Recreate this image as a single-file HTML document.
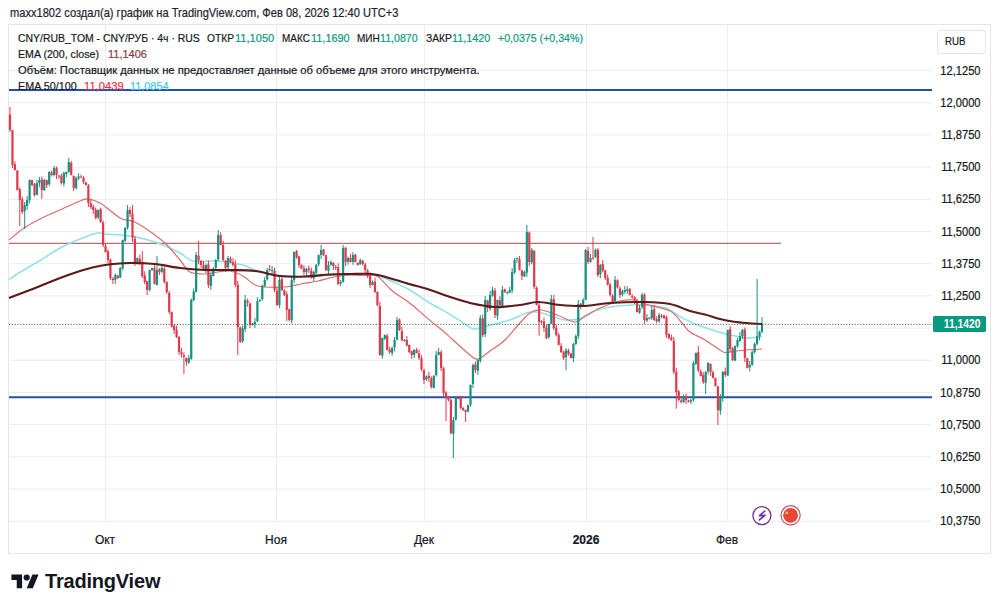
<!DOCTYPE html>
<html><head><meta charset="utf-8"><style>
html,body{margin:0;padding:0;background:#fff;width:1000px;height:610px;overflow:hidden;}
body{position:relative;font-family:"Liberation Sans",sans-serif;color:#131722;}
.tp{position:absolute;white-space:pre;transform-origin:0 0;-webkit-text-stroke:0.2px currentColor;}
.t{position:absolute;white-space:nowrap;font-size:12px;line-height:14px;color:#131722;}
.pl{position:absolute;left:920px;width:60.5px;text-align:right;font-size:12px;line-height:16px;color:#131722;transform:scaleX(0.925);transform-origin:100% 50%;-webkit-text-stroke:0.2px currentColor;}
.ml{position:absolute;top:533px;width:60px;text-align:center;font-size:12px;line-height:14px;color:#131722;-webkit-text-stroke:0.2px currentColor;}
.g{color:#089981} .r2{color:#880e4f} .r1{color:#f23645} .c1{color:#00bcd4}
</style></head><body>
<div class="tp" style="left:10.0px;top:7.1px;font-size:12.4px;line-height:12.4px;color:#1e222d;font-weight:normal;transform:scaleX(0.8956);">maxx1802 создал(а) график на TradingView.com, Фев 08, 2026 12:40 UTC+3</div>
<div style="position:absolute;left:8px;top:24px;width:983px;height:530px;border:1px solid #e6e6e6;box-sizing:border-box;"></div>
<svg style="position:absolute;left:0;top:0" width="1000" height="610" viewBox="0 0 1000 610">
<line x1="9" y1="70.5" x2="931" y2="70.5" stroke="#ececec" stroke-width="1"/><line x1="9" y1="102.7" x2="931" y2="102.7" stroke="#ececec" stroke-width="1"/><line x1="9" y1="134.9" x2="931" y2="134.9" stroke="#ececec" stroke-width="1"/><line x1="9" y1="167.1" x2="931" y2="167.1" stroke="#ececec" stroke-width="1"/><line x1="9" y1="199.3" x2="931" y2="199.3" stroke="#ececec" stroke-width="1"/><line x1="9" y1="231.5" x2="931" y2="231.5" stroke="#ececec" stroke-width="1"/><line x1="9" y1="263.7" x2="931" y2="263.7" stroke="#ececec" stroke-width="1"/><line x1="9" y1="295.9" x2="931" y2="295.9" stroke="#ececec" stroke-width="1"/><line x1="9" y1="328.1" x2="931" y2="328.1" stroke="#ececec" stroke-width="1"/><line x1="9" y1="360.3" x2="931" y2="360.3" stroke="#ececec" stroke-width="1"/><line x1="9" y1="392.5" x2="931" y2="392.5" stroke="#ececec" stroke-width="1"/><line x1="9" y1="424.7" x2="931" y2="424.7" stroke="#ececec" stroke-width="1"/><line x1="9" y1="456.9" x2="931" y2="456.9" stroke="#ececec" stroke-width="1"/><line x1="9" y1="489.1" x2="931" y2="489.1" stroke="#ececec" stroke-width="1"/><line x1="9" y1="521.3" x2="931" y2="521.3" stroke="#ececec" stroke-width="1"/><line x1="105.5" y1="25" x2="105.5" y2="521" stroke="#ececec" stroke-width="1"/><line x1="276.5" y1="25" x2="276.5" y2="521" stroke="#ececec" stroke-width="1"/><line x1="424.5" y1="25" x2="424.5" y2="521" stroke="#ececec" stroke-width="1"/><line x1="586.5" y1="25" x2="586.5" y2="521" stroke="#ececec" stroke-width="1"/><line x1="727.5" y1="25" x2="727.5" y2="521" stroke="#ececec" stroke-width="1"/>
<line x1="9" y1="243.3" x2="781" y2="243.3" stroke="#a04a4a" stroke-width="1"/>
<line x1="9" y1="90" x2="932" y2="90" stroke="#2a4fa0" stroke-width="2"/>
<line x1="9" y1="397.2" x2="932" y2="397.2" stroke="#2a4fa0" stroke-width="2"/>
<path d="M9.0,279.5 C11.3,278.0 17.8,273.7 23.0,270.5 C28.2,267.3 33.8,264.2 40.0,260.5 C46.2,256.8 53.3,251.6 60.0,248.0 C66.7,244.4 73.8,241.5 80.0,239.0 C86.2,236.5 92.8,233.8 97.0,233.0 C101.2,232.2 99.5,233.5 105.0,234.0 C110.5,234.5 121.7,234.7 130.0,236.0 C138.3,237.3 146.7,239.2 155.0,242.0 C163.3,244.8 173.7,249.8 180.0,253.0 C186.3,256.2 186.7,259.7 193.0,261.0 C199.3,262.3 209.7,260.3 218.0,261.0 C226.3,261.7 236.8,263.5 243.0,265.0 C249.2,266.5 248.8,268.2 255.0,270.0 C261.2,271.8 270.8,274.4 280.0,275.5 C289.2,276.6 300.0,276.6 310.0,276.5 C320.0,276.4 329.7,275.2 340.0,275.0 C350.3,274.8 363.8,274.2 372.0,275.0 C380.2,275.8 382.8,277.6 389.0,280.0 C395.2,282.4 402.3,285.8 409.0,289.5 C415.7,293.2 422.2,298.4 429.0,302.5 C435.8,306.6 444.0,310.7 450.0,314.3 C456.0,317.9 460.8,321.6 465.0,324.0 C469.2,326.4 470.0,329.0 475.0,329.0 C480.0,329.0 489.2,325.5 495.0,324.0 C500.8,322.5 504.2,322.0 510.0,320.0 C515.8,318.0 524.2,313.0 530.0,312.0 C535.8,311.0 539.2,312.7 545.0,314.0 C550.8,315.3 558.8,319.3 565.0,320.0 C571.2,320.7 577.0,319.5 582.0,318.0 C587.0,316.5 590.3,312.8 595.0,311.0 C599.7,309.2 603.8,308.0 610.0,307.0 C616.2,306.0 626.2,305.3 632.0,305.0 C637.8,304.7 639.3,304.5 645.0,305.0 C650.7,305.5 660.3,306.2 666.0,308.0 C671.7,309.8 674.2,313.3 679.0,316.0 C683.8,318.7 688.3,321.3 695.0,324.0 C701.7,326.7 712.3,330.0 719.0,332.0 C725.7,334.0 729.8,335.0 735.0,336.0 C740.2,337.0 745.5,338.0 750.0,338.0 C754.5,338.0 760.0,336.3 762.0,336.0" fill="none" stroke="#8ee3ea" stroke-width="1.5"/>
<path d="M9.0,240.0 C11.5,238.0 18.5,231.7 24.0,228.0 C29.5,224.3 35.7,221.2 42.0,218.0 C48.3,214.8 55.7,211.8 62.0,209.0 C68.3,206.2 75.7,202.7 80.0,201.0 C84.3,199.3 84.7,198.7 88.0,199.0 C91.3,199.3 96.0,200.8 100.0,203.0 C104.0,205.2 108.3,209.3 112.0,212.0 C115.7,214.7 118.2,217.3 122.0,219.0 C125.8,220.7 129.5,219.3 135.0,222.0 C140.5,224.7 149.7,231.2 155.0,235.0 C160.3,238.8 162.8,240.8 167.0,245.0 C171.2,249.2 176.2,255.5 180.0,260.0 C183.8,264.5 185.8,269.7 190.0,272.0 C194.2,274.3 200.3,274.0 205.0,274.0 C209.7,274.0 213.8,272.5 218.0,272.0 C222.2,271.5 225.8,270.3 230.0,271.0 C234.2,271.7 238.8,273.7 243.0,276.0 C247.2,278.3 251.3,283.2 255.0,285.0 C258.7,286.8 260.0,286.7 265.0,287.0 C270.0,287.3 279.0,287.5 285.0,287.0 C291.0,286.5 295.5,285.0 301.0,284.0 C306.5,283.0 312.5,282.2 318.0,281.0 C323.5,279.8 328.7,278.0 334.0,277.0 C339.3,276.0 344.8,275.2 350.0,275.0 C355.2,274.8 360.5,275.3 365.0,275.5 C369.5,275.7 372.5,273.5 377.0,276.0 C381.5,278.5 386.7,286.3 392.0,290.7 C397.3,295.1 402.8,297.7 409.0,302.5 C415.2,307.3 423.5,315.0 429.0,319.6 C434.5,324.2 438.2,326.8 442.0,330.0 C445.8,333.2 447.3,334.8 452.0,339.0 C456.7,343.2 465.7,351.7 470.0,355.0 C474.3,358.3 474.7,359.7 478.0,359.0 C481.3,358.3 485.5,354.2 490.0,351.0 C494.5,347.8 500.0,344.7 505.0,340.0 C510.0,335.3 515.8,327.5 520.0,323.0 C524.2,318.5 526.5,315.2 530.0,313.0 C533.5,310.8 536.5,309.7 541.0,310.0 C545.5,310.3 551.3,313.0 557.0,315.0 C562.7,317.0 570.3,321.8 575.0,322.0 C579.7,322.2 580.8,318.3 585.0,316.0 C589.2,313.7 594.2,310.5 600.0,308.0 C605.8,305.5 614.5,302.3 620.0,301.0 C625.5,299.7 628.8,299.5 633.0,300.0 C637.2,300.5 638.8,302.2 645.0,304.0 C651.2,305.8 663.8,307.8 670.0,311.0 C676.2,314.2 678.7,319.5 682.0,323.0 C685.3,326.5 686.2,329.2 690.0,332.0 C693.8,334.8 700.0,337.0 705.0,340.0 C710.0,343.0 716.5,347.9 720.0,350.0 C723.5,352.1 722.7,352.4 726.0,352.5 C729.3,352.6 734.0,351.1 740.0,350.5 C746.0,349.9 758.3,349.2 762.0,349.0" fill="none" stroke="#e06a6a" stroke-width="1.2"/>
<line x1="10.00" y1="107.0" x2="10.00" y2="132.0" stroke="#e0394c" stroke-width="1"/><rect x="8.90" y="114.6" width="2.2" height="15.4" fill="#e0394c"/><line x1="12.45" y1="129.8" x2="12.45" y2="168.0" stroke="#e0394c" stroke-width="1"/><rect x="11.35" y="130.3" width="2.2" height="34.7" fill="#e0394c"/><line x1="14.90" y1="161.2" x2="14.90" y2="170.5" stroke="#e0394c" stroke-width="1"/><rect x="13.80" y="164.2" width="2.2" height="5.8" fill="#e0394c"/><line x1="17.35" y1="169.8" x2="17.35" y2="190.5" stroke="#e0394c" stroke-width="1"/><rect x="16.25" y="170.8" width="2.2" height="19.2" fill="#e0394c"/><line x1="19.80" y1="187.2" x2="19.80" y2="226.0" stroke="#e0394c" stroke-width="1"/><rect x="18.70" y="189.2" width="2.2" height="10.8" fill="#e0394c"/><line x1="22.25" y1="196.5" x2="22.25" y2="214.0" stroke="#e0394c" stroke-width="1"/><rect x="21.15" y="199.5" width="2.2" height="12.5" fill="#e0394c"/><line x1="24.70" y1="202.0" x2="24.70" y2="229.0" stroke="#16917f" stroke-width="1"/><rect x="23.60" y="205.0" width="2.2" height="6.1" fill="#16917f"/><line x1="27.15" y1="196.0" x2="27.15" y2="209.9" stroke="#16917f" stroke-width="1"/><rect x="26.05" y="200.0" width="2.2" height="5.9" fill="#16917f"/><line x1="29.60" y1="179.5" x2="29.60" y2="203.2" stroke="#16917f" stroke-width="1"/><rect x="28.50" y="180.0" width="2.2" height="20.2" fill="#16917f"/><line x1="32.05" y1="179.7" x2="32.05" y2="186.0" stroke="#e0394c" stroke-width="1"/><rect x="30.95" y="180.2" width="2.2" height="4.8" fill="#e0394c"/><line x1="34.50" y1="183.1" x2="34.50" y2="196.5" stroke="#e0394c" stroke-width="1"/><rect x="33.40" y="184.1" width="2.2" height="10.9" fill="#e0394c"/><line x1="36.94" y1="180.0" x2="36.94" y2="195.3" stroke="#16917f" stroke-width="1"/><rect x="35.84" y="183.0" width="2.2" height="11.8" fill="#16917f"/><line x1="39.39" y1="177.0" x2="39.39" y2="187.1" stroke="#16917f" stroke-width="1"/><rect x="38.29" y="180.0" width="2.2" height="3.1" fill="#16917f"/><line x1="41.84" y1="176.4" x2="41.84" y2="199.0" stroke="#e0394c" stroke-width="1"/><rect x="40.74" y="179.4" width="2.2" height="10.6" fill="#e0394c"/><line x1="44.29" y1="178.5" x2="44.29" y2="190.8" stroke="#16917f" stroke-width="1"/><rect x="43.19" y="180.0" width="2.2" height="10.3" fill="#16917f"/><line x1="46.74" y1="179.6" x2="46.74" y2="188.0" stroke="#e0394c" stroke-width="1"/><rect x="45.64" y="180.1" width="2.2" height="4.9" fill="#e0394c"/><line x1="49.19" y1="171.0" x2="49.19" y2="186.1" stroke="#16917f" stroke-width="1"/><rect x="48.09" y="172.0" width="2.2" height="12.1" fill="#16917f"/><line x1="51.64" y1="170.4" x2="51.64" y2="176.5" stroke="#e0394c" stroke-width="1"/><rect x="50.54" y="172.4" width="2.2" height="2.6" fill="#e0394c"/><line x1="54.09" y1="166.0" x2="54.09" y2="176.4" stroke="#16917f" stroke-width="1"/><rect x="52.99" y="168.0" width="2.2" height="6.9" fill="#16917f"/><line x1="56.54" y1="166.6" x2="56.54" y2="179.0" stroke="#e0394c" stroke-width="1"/><rect x="55.44" y="167.6" width="2.2" height="7.4" fill="#e0394c"/><line x1="58.99" y1="175.1" x2="58.99" y2="179.0" stroke="#e0394c" stroke-width="1"/><rect x="57.89" y="175.6" width="2.2" height="1.0" fill="#e0394c"/><line x1="61.44" y1="173.6" x2="61.44" y2="184.5" stroke="#e0394c" stroke-width="1"/><rect x="60.34" y="175.6" width="2.2" height="7.4" fill="#e0394c"/><line x1="63.89" y1="171.5" x2="63.89" y2="186.5" stroke="#16917f" stroke-width="1"/><rect x="62.79" y="173.0" width="2.2" height="10.5" fill="#16917f"/><line x1="66.34" y1="171.5" x2="66.34" y2="177.0" stroke="#16917f" stroke-width="1"/><rect x="65.24" y="172.0" width="2.2" height="2.0" fill="#16917f"/><line x1="68.79" y1="158.0" x2="68.79" y2="172.8" stroke="#16917f" stroke-width="1"/><rect x="67.69" y="162.0" width="2.2" height="9.8" fill="#16917f"/><line x1="71.24" y1="160.9" x2="71.24" y2="175.5" stroke="#e0394c" stroke-width="1"/><rect x="70.14" y="162.9" width="2.2" height="12.1" fill="#e0394c"/><line x1="73.69" y1="175.4" x2="73.69" y2="191.0" stroke="#e0394c" stroke-width="1"/><rect x="72.59" y="175.9" width="2.2" height="12.1" fill="#e0394c"/><line x1="76.14" y1="176.5" x2="76.14" y2="189.6" stroke="#16917f" stroke-width="1"/><rect x="75.04" y="178.0" width="2.2" height="10.1" fill="#16917f"/><line x1="78.59" y1="173.4" x2="78.59" y2="180.4" stroke="#16917f" stroke-width="1"/><rect x="77.49" y="176.4" width="2.2" height="2.0" fill="#16917f"/><line x1="81.04" y1="174.6" x2="81.04" y2="177.5" stroke="#e0394c" stroke-width="1"/><rect x="79.94" y="176.6" width="2.2" height="1.0" fill="#e0394c"/><line x1="83.49" y1="176.2" x2="83.49" y2="184.0" stroke="#e0394c" stroke-width="1"/><rect x="82.39" y="177.7" width="2.2" height="4.3" fill="#e0394c"/><line x1="85.93" y1="181.9" x2="85.93" y2="185.5" stroke="#e0394c" stroke-width="1"/><rect x="84.83" y="182.4" width="2.2" height="2.6" fill="#e0394c"/><line x1="88.38" y1="184.0" x2="88.38" y2="207.0" stroke="#e0394c" stroke-width="1"/><rect x="87.28" y="185.5" width="2.2" height="17.5" fill="#e0394c"/><line x1="90.83" y1="199.2" x2="90.83" y2="209.0" stroke="#e0394c" stroke-width="1"/><rect x="89.73" y="203.2" width="2.2" height="3.8" fill="#e0394c"/><line x1="93.28" y1="204.6" x2="93.28" y2="214.0" stroke="#e0394c" stroke-width="1"/><rect x="92.18" y="206.6" width="2.2" height="3.4" fill="#e0394c"/><line x1="95.73" y1="207.7" x2="95.73" y2="219.5" stroke="#e0394c" stroke-width="1"/><rect x="94.63" y="209.7" width="2.2" height="8.3" fill="#e0394c"/><line x1="98.18" y1="209.5" x2="98.18" y2="219.3" stroke="#16917f" stroke-width="1"/><rect x="97.08" y="210.0" width="2.2" height="7.3" fill="#16917f"/><line x1="100.63" y1="207.6" x2="100.63" y2="223.0" stroke="#e0394c" stroke-width="1"/><rect x="99.53" y="209.1" width="2.2" height="12.9" fill="#e0394c"/><line x1="103.08" y1="220.5" x2="103.08" y2="247.0" stroke="#e0394c" stroke-width="1"/><rect x="101.98" y="222.5" width="2.2" height="22.5" fill="#e0394c"/><line x1="105.53" y1="243.8" x2="105.53" y2="252.5" stroke="#e0394c" stroke-width="1"/><rect x="104.43" y="245.8" width="2.2" height="6.2" fill="#e0394c"/><line x1="107.98" y1="249.3" x2="107.98" y2="263.0" stroke="#e0394c" stroke-width="1"/><rect x="106.88" y="251.3" width="2.2" height="8.7" fill="#e0394c"/><line x1="110.43" y1="258.6" x2="110.43" y2="280.0" stroke="#e0394c" stroke-width="1"/><rect x="109.33" y="259.6" width="2.2" height="18.4" fill="#e0394c"/><line x1="112.88" y1="277.2" x2="112.88" y2="284.0" stroke="#e0394c" stroke-width="1"/><rect x="111.78" y="278.7" width="2.2" height="1.3" fill="#e0394c"/><line x1="115.33" y1="273.5" x2="115.33" y2="283.8" stroke="#16917f" stroke-width="1"/><rect x="114.23" y="275.0" width="2.2" height="4.8" fill="#16917f"/><line x1="117.78" y1="274.8" x2="117.78" y2="279.0" stroke="#e0394c" stroke-width="1"/><rect x="116.68" y="275.8" width="2.2" height="2.2" fill="#e0394c"/><line x1="120.23" y1="267.0" x2="120.23" y2="278.2" stroke="#16917f" stroke-width="1"/><rect x="119.13" y="268.0" width="2.2" height="9.2" fill="#16917f"/><line x1="122.68" y1="239.5" x2="122.68" y2="270.3" stroke="#16917f" stroke-width="1"/><rect x="121.58" y="240.0" width="2.2" height="28.3" fill="#16917f"/><line x1="125.13" y1="227.0" x2="125.13" y2="242.2" stroke="#16917f" stroke-width="1"/><rect x="124.03" y="228.0" width="2.2" height="12.7" fill="#16917f"/><line x1="127.58" y1="205.0" x2="127.58" y2="229.6" stroke="#16917f" stroke-width="1"/><rect x="126.48" y="210.0" width="2.2" height="17.6" fill="#16917f"/><line x1="130.03" y1="207.1" x2="130.03" y2="217.0" stroke="#e0394c" stroke-width="1"/><rect x="128.93" y="210.1" width="2.2" height="3.9" fill="#e0394c"/><line x1="132.48" y1="205.0" x2="132.48" y2="242.0" stroke="#e0394c" stroke-width="1"/><rect x="131.38" y="213.6" width="2.2" height="24.4" fill="#e0394c"/><line x1="134.93" y1="235.7" x2="134.93" y2="266.0" stroke="#e0394c" stroke-width="1"/><rect x="133.83" y="238.7" width="2.2" height="23.3" fill="#e0394c"/><line x1="137.37" y1="257.5" x2="137.37" y2="264.4" stroke="#16917f" stroke-width="1"/><rect x="136.27" y="258.0" width="2.2" height="4.4" fill="#16917f"/><line x1="139.82" y1="254.8" x2="139.82" y2="265.0" stroke="#e0394c" stroke-width="1"/><rect x="138.72" y="258.8" width="2.2" height="3.2" fill="#e0394c"/><line x1="142.27" y1="251.0" x2="142.27" y2="278.0" stroke="#e0394c" stroke-width="1"/><rect x="141.17" y="261.8" width="2.2" height="14.2" fill="#e0394c"/><line x1="144.72" y1="271.2" x2="144.72" y2="284.0" stroke="#e0394c" stroke-width="1"/><rect x="143.62" y="275.2" width="2.2" height="6.8" fill="#e0394c"/><line x1="147.17" y1="280.7" x2="147.17" y2="295.0" stroke="#e0394c" stroke-width="1"/><rect x="146.07" y="281.2" width="2.2" height="8.8" fill="#e0394c"/><line x1="149.62" y1="269.5" x2="149.62" y2="291.4" stroke="#16917f" stroke-width="1"/><rect x="148.52" y="270.0" width="2.2" height="19.9" fill="#16917f"/><line x1="152.07" y1="267.5" x2="152.07" y2="270.7" stroke="#16917f" stroke-width="1"/><rect x="150.97" y="268.0" width="2.2" height="2.2" fill="#16917f"/><line x1="154.52" y1="265.1" x2="154.52" y2="284.5" stroke="#e0394c" stroke-width="1"/><rect x="153.42" y="268.1" width="2.2" height="15.9" fill="#e0394c"/><line x1="156.97" y1="256.0" x2="156.97" y2="285.4" stroke="#16917f" stroke-width="1"/><rect x="155.87" y="270.0" width="2.2" height="14.9" fill="#16917f"/><line x1="159.42" y1="268.1" x2="159.42" y2="275.0" stroke="#e0394c" stroke-width="1"/><rect x="158.32" y="269.1" width="2.2" height="2.9" fill="#e0394c"/><line x1="161.87" y1="264.0" x2="161.87" y2="273.3" stroke="#16917f" stroke-width="1"/><rect x="160.77" y="268.0" width="2.2" height="3.8" fill="#16917f"/><line x1="164.32" y1="265.9" x2="164.32" y2="283.5" stroke="#e0394c" stroke-width="1"/><rect x="163.22" y="268.9" width="2.2" height="13.1" fill="#e0394c"/><line x1="166.77" y1="281.4" x2="166.77" y2="294.0" stroke="#e0394c" stroke-width="1"/><rect x="165.67" y="281.9" width="2.2" height="10.1" fill="#e0394c"/><line x1="169.22" y1="291.0" x2="169.22" y2="314.0" stroke="#e0394c" stroke-width="1"/><rect x="168.12" y="293.0" width="2.2" height="19.0" fill="#e0394c"/><line x1="171.67" y1="311.5" x2="171.67" y2="327.5" stroke="#e0394c" stroke-width="1"/><rect x="170.57" y="312.0" width="2.2" height="14.5" fill="#e0394c"/><line x1="174.12" y1="324.2" x2="174.12" y2="334.0" stroke="#e0394c" stroke-width="1"/><rect x="173.02" y="325.7" width="2.2" height="4.3" fill="#e0394c"/><line x1="176.57" y1="325.5" x2="176.57" y2="338.0" stroke="#e0394c" stroke-width="1"/><rect x="175.47" y="329.5" width="2.2" height="7.5" fill="#e0394c"/><line x1="179.02" y1="336.0" x2="179.02" y2="355.0" stroke="#e0394c" stroke-width="1"/><rect x="177.92" y="337.0" width="2.2" height="15.0" fill="#e0394c"/><line x1="181.47" y1="347.7" x2="181.47" y2="357.4" stroke="#e0394c" stroke-width="1"/><rect x="180.37" y="351.7" width="2.2" height="2.7" fill="#e0394c"/><line x1="183.92" y1="352.3" x2="183.92" y2="374.0" stroke="#e0394c" stroke-width="1"/><rect x="182.82" y="355.3" width="2.2" height="1.7" fill="#e0394c"/><line x1="186.36" y1="357.5" x2="186.36" y2="365.8" stroke="#e0394c" stroke-width="1"/><rect x="185.26" y="358.0" width="2.2" height="3.9" fill="#e0394c"/><line x1="188.81" y1="355.0" x2="188.81" y2="364.0" stroke="#16917f" stroke-width="1"/><rect x="187.71" y="358.0" width="2.2" height="4.5" fill="#16917f"/><line x1="191.26" y1="298.5" x2="191.26" y2="359.8" stroke="#16917f" stroke-width="1"/><rect x="190.16" y="300.0" width="2.2" height="58.8" fill="#16917f"/><line x1="193.71" y1="288.4" x2="193.71" y2="301.6" stroke="#16917f" stroke-width="1"/><rect x="192.61" y="291.4" width="2.2" height="8.6" fill="#16917f"/><line x1="196.16" y1="252.0" x2="196.16" y2="292.7" stroke="#16917f" stroke-width="1"/><rect x="195.06" y="255.0" width="2.2" height="36.7" fill="#16917f"/><line x1="198.61" y1="241.0" x2="198.61" y2="264.4" stroke="#e0394c" stroke-width="1"/><rect x="197.51" y="255.6" width="2.2" height="4.8" fill="#e0394c"/><line x1="201.06" y1="260.0" x2="201.06" y2="268.0" stroke="#e0394c" stroke-width="1"/><rect x="199.96" y="261.0" width="2.2" height="4.0" fill="#e0394c"/><line x1="203.51" y1="261.0" x2="203.51" y2="270.5" stroke="#e0394c" stroke-width="1"/><rect x="202.41" y="265.0" width="2.2" height="5.0" fill="#e0394c"/><line x1="205.96" y1="263.5" x2="205.96" y2="273.0" stroke="#16917f" stroke-width="1"/><rect x="204.86" y="265.0" width="2.2" height="6.0" fill="#16917f"/><line x1="208.41" y1="260.5" x2="208.41" y2="288.0" stroke="#e0394c" stroke-width="1"/><rect x="207.31" y="264.5" width="2.2" height="20.5" fill="#e0394c"/><line x1="210.86" y1="273.0" x2="210.86" y2="289.9" stroke="#16917f" stroke-width="1"/><rect x="209.76" y="275.0" width="2.2" height="10.9" fill="#16917f"/><line x1="213.31" y1="267.0" x2="213.31" y2="276.5" stroke="#16917f" stroke-width="1"/><rect x="212.21" y="268.5" width="2.2" height="7.5" fill="#16917f"/><line x1="215.76" y1="259.0" x2="215.76" y2="269.9" stroke="#16917f" stroke-width="1"/><rect x="214.66" y="260.0" width="2.2" height="7.9" fill="#16917f"/><line x1="218.21" y1="230.0" x2="218.21" y2="261.4" stroke="#16917f" stroke-width="1"/><rect x="217.11" y="235.0" width="2.2" height="24.4" fill="#16917f"/><line x1="220.66" y1="232.2" x2="220.66" y2="245.5" stroke="#e0394c" stroke-width="1"/><rect x="219.56" y="235.2" width="2.2" height="9.8" fill="#e0394c"/><line x1="223.11" y1="241.0" x2="223.11" y2="261.5" stroke="#e0394c" stroke-width="1"/><rect x="222.01" y="245.0" width="2.2" height="15.0" fill="#e0394c"/><line x1="225.56" y1="260.1" x2="225.56" y2="272.0" stroke="#e0394c" stroke-width="1"/><rect x="224.46" y="260.6" width="2.2" height="7.4" fill="#e0394c"/><line x1="228.01" y1="256.0" x2="228.01" y2="271.2" stroke="#16917f" stroke-width="1"/><rect x="226.91" y="258.0" width="2.2" height="9.2" fill="#16917f"/><line x1="230.46" y1="256.5" x2="230.46" y2="263.3" stroke="#e0394c" stroke-width="1"/><rect x="229.36" y="258.5" width="2.2" height="3.8" fill="#e0394c"/><line x1="232.91" y1="258.2" x2="232.91" y2="266.5" stroke="#e0394c" stroke-width="1"/><rect x="231.81" y="262.2" width="2.2" height="2.8" fill="#e0394c"/><line x1="235.36" y1="260.2" x2="235.36" y2="287.0" stroke="#e0394c" stroke-width="1"/><rect x="234.26" y="264.2" width="2.2" height="20.8" fill="#e0394c"/><line x1="237.80" y1="280.9" x2="237.80" y2="355.0" stroke="#e0394c" stroke-width="1"/><rect x="236.70" y="284.9" width="2.2" height="42.1" fill="#e0394c"/><line x1="240.25" y1="326.4" x2="240.25" y2="343.0" stroke="#e0394c" stroke-width="1"/><rect x="239.15" y="327.4" width="2.2" height="14.6" fill="#e0394c"/><line x1="242.70" y1="325.4" x2="242.70" y2="343.1" stroke="#16917f" stroke-width="1"/><rect x="241.60" y="328.4" width="2.2" height="12.7" fill="#16917f"/><line x1="245.15" y1="295.0" x2="245.15" y2="332.0" stroke="#16917f" stroke-width="1"/><rect x="244.05" y="300.0" width="2.2" height="29.0" fill="#16917f"/><line x1="247.60" y1="298.7" x2="247.60" y2="306.7" stroke="#e0394c" stroke-width="1"/><rect x="246.50" y="300.7" width="2.2" height="2.0" fill="#e0394c"/><line x1="250.05" y1="302.5" x2="250.05" y2="328.0" stroke="#e0394c" stroke-width="1"/><rect x="248.95" y="303.5" width="2.2" height="21.5" fill="#e0394c"/><line x1="252.50" y1="323.0" x2="252.50" y2="325.6" stroke="#16917f" stroke-width="1"/><rect x="251.40" y="323.5" width="2.2" height="1.6" fill="#16917f"/><line x1="254.95" y1="318.0" x2="254.95" y2="328.1" stroke="#16917f" stroke-width="1"/><rect x="253.85" y="322.0" width="2.2" height="2.1" fill="#16917f"/><line x1="257.40" y1="297.1" x2="257.40" y2="322.2" stroke="#16917f" stroke-width="1"/><rect x="256.30" y="301.1" width="2.2" height="20.1" fill="#16917f"/><line x1="259.85" y1="299.0" x2="259.85" y2="301.9" stroke="#16917f" stroke-width="1"/><rect x="258.75" y="300.0" width="2.2" height="1.0" fill="#16917f"/><line x1="262.30" y1="284.7" x2="262.30" y2="300.6" stroke="#16917f" stroke-width="1"/><rect x="261.20" y="285.7" width="2.2" height="13.4" fill="#16917f"/><line x1="264.75" y1="277.0" x2="264.75" y2="287.2" stroke="#16917f" stroke-width="1"/><rect x="263.65" y="280.0" width="2.2" height="5.7" fill="#16917f"/><line x1="267.20" y1="268.0" x2="267.20" y2="280.5" stroke="#16917f" stroke-width="1"/><rect x="266.10" y="270.0" width="2.2" height="9.5" fill="#16917f"/><line x1="269.65" y1="265.1" x2="269.65" y2="271.5" stroke="#e0394c" stroke-width="1"/><rect x="268.55" y="269.1" width="2.2" height="1.0" fill="#e0394c"/><line x1="272.10" y1="266.0" x2="272.10" y2="273.8" stroke="#16917f" stroke-width="1"/><rect x="271.00" y="270.0" width="2.2" height="1.0" fill="#16917f"/><line x1="274.55" y1="267.6" x2="274.55" y2="292.0" stroke="#e0394c" stroke-width="1"/><rect x="273.45" y="270.6" width="2.2" height="19.4" fill="#e0394c"/><line x1="277.00" y1="287.7" x2="277.00" y2="306.0" stroke="#e0394c" stroke-width="1"/><rect x="275.90" y="290.7" width="2.2" height="14.3" fill="#e0394c"/><line x1="279.45" y1="277.0" x2="279.45" y2="308.1" stroke="#16917f" stroke-width="1"/><rect x="278.35" y="280.0" width="2.2" height="25.1" fill="#16917f"/><line x1="281.90" y1="277.0" x2="281.90" y2="291.0" stroke="#e0394c" stroke-width="1"/><rect x="280.80" y="279.0" width="2.2" height="11.0" fill="#e0394c"/><line x1="284.35" y1="289.2" x2="284.35" y2="296.0" stroke="#e0394c" stroke-width="1"/><rect x="283.25" y="290.2" width="2.2" height="4.8" fill="#e0394c"/><line x1="286.79" y1="291.3" x2="286.79" y2="321.0" stroke="#e0394c" stroke-width="1"/><rect x="285.69" y="294.3" width="2.2" height="15.7" fill="#e0394c"/><line x1="289.24" y1="308.7" x2="289.24" y2="321.5" stroke="#e0394c" stroke-width="1"/><rect x="288.14" y="309.2" width="2.2" height="10.8" fill="#e0394c"/><line x1="291.69" y1="277.0" x2="291.69" y2="323.4" stroke="#16917f" stroke-width="1"/><rect x="290.59" y="280.0" width="2.2" height="40.4" fill="#16917f"/><line x1="294.14" y1="251.5" x2="294.14" y2="283.0" stroke="#16917f" stroke-width="1"/><rect x="293.04" y="252.0" width="2.2" height="28.0" fill="#16917f"/><line x1="296.59" y1="250.1" x2="296.59" y2="258.8" stroke="#e0394c" stroke-width="1"/><rect x="295.49" y="251.1" width="2.2" height="6.2" fill="#e0394c"/><line x1="299.04" y1="255.9" x2="299.04" y2="268.0" stroke="#e0394c" stroke-width="1"/><rect x="297.94" y="256.4" width="2.2" height="8.6" fill="#e0394c"/><line x1="301.49" y1="264.4" x2="301.49" y2="269.0" stroke="#e0394c" stroke-width="1"/><rect x="300.39" y="264.9" width="2.2" height="3.6" fill="#e0394c"/><line x1="303.94" y1="265.4" x2="303.94" y2="275.0" stroke="#e0394c" stroke-width="1"/><rect x="302.84" y="268.4" width="2.2" height="3.6" fill="#e0394c"/><line x1="306.39" y1="267.9" x2="306.39" y2="276.2" stroke="#16917f" stroke-width="1"/><rect x="305.29" y="268.9" width="2.2" height="3.3" fill="#16917f"/><line x1="308.84" y1="265.5" x2="308.84" y2="273.0" stroke="#e0394c" stroke-width="1"/><rect x="307.74" y="268.5" width="2.2" height="1.5" fill="#e0394c"/><line x1="311.29" y1="267.6" x2="311.29" y2="278.7" stroke="#e0394c" stroke-width="1"/><rect x="310.19" y="270.6" width="2.2" height="7.1" fill="#e0394c"/><line x1="313.74" y1="270.5" x2="313.74" y2="281.1" stroke="#16917f" stroke-width="1"/><rect x="312.64" y="272.0" width="2.2" height="6.1" fill="#16917f"/><line x1="316.19" y1="264.0" x2="316.19" y2="274.8" stroke="#16917f" stroke-width="1"/><rect x="315.09" y="265.0" width="2.2" height="7.8" fill="#16917f"/><line x1="318.64" y1="254.5" x2="318.64" y2="266.3" stroke="#16917f" stroke-width="1"/><rect x="317.54" y="255.0" width="2.2" height="9.3" fill="#16917f"/><line x1="321.09" y1="245.0" x2="321.09" y2="258.9" stroke="#16917f" stroke-width="1"/><rect x="319.99" y="250.0" width="2.2" height="4.9" fill="#16917f"/><line x1="323.54" y1="249.0" x2="323.54" y2="256.0" stroke="#e0394c" stroke-width="1"/><rect x="322.44" y="249.5" width="2.2" height="5.5" fill="#e0394c"/><line x1="325.99" y1="254.8" x2="325.99" y2="271.0" stroke="#e0394c" stroke-width="1"/><rect x="324.89" y="255.3" width="2.2" height="14.7" fill="#e0394c"/><line x1="328.44" y1="261.0" x2="328.44" y2="274.9" stroke="#16917f" stroke-width="1"/><rect x="327.34" y="265.0" width="2.2" height="5.9" fill="#16917f"/><line x1="330.89" y1="260.5" x2="330.89" y2="265.7" stroke="#16917f" stroke-width="1"/><rect x="329.79" y="262.0" width="2.2" height="2.7" fill="#16917f"/><line x1="333.34" y1="261.9" x2="333.34" y2="270.0" stroke="#e0394c" stroke-width="1"/><rect x="332.24" y="262.9" width="2.2" height="3.1" fill="#e0394c"/><line x1="335.79" y1="264.9" x2="335.79" y2="270.0" stroke="#e0394c" stroke-width="1"/><rect x="334.69" y="266.9" width="2.2" height="1.1" fill="#e0394c"/><line x1="338.23" y1="263.3" x2="338.23" y2="285.0" stroke="#e0394c" stroke-width="1"/><rect x="337.13" y="267.3" width="2.2" height="16.7" fill="#e0394c"/><line x1="340.68" y1="280.0" x2="340.68" y2="286.3" stroke="#16917f" stroke-width="1"/><rect x="339.58" y="282.0" width="2.2" height="1.3" fill="#16917f"/><line x1="343.13" y1="245.0" x2="343.13" y2="282.8" stroke="#16917f" stroke-width="1"/><rect x="342.03" y="248.0" width="2.2" height="33.8" fill="#16917f"/><line x1="345.58" y1="247.2" x2="345.58" y2="266.0" stroke="#e0394c" stroke-width="1"/><rect x="344.48" y="247.7" width="2.2" height="14.3" fill="#e0394c"/><line x1="348.03" y1="256.5" x2="348.03" y2="264.7" stroke="#16917f" stroke-width="1"/><rect x="346.93" y="258.0" width="2.2" height="3.7" fill="#16917f"/><line x1="350.48" y1="253.9" x2="350.48" y2="262.5" stroke="#e0394c" stroke-width="1"/><rect x="349.38" y="257.9" width="2.2" height="4.1" fill="#e0394c"/><line x1="352.93" y1="252.0" x2="352.93" y2="264.8" stroke="#16917f" stroke-width="1"/><rect x="351.83" y="255.0" width="2.2" height="6.8" fill="#16917f"/><line x1="355.38" y1="254.1" x2="355.38" y2="262.5" stroke="#e0394c" stroke-width="1"/><rect x="354.28" y="254.6" width="2.2" height="7.4" fill="#e0394c"/><line x1="357.83" y1="262.0" x2="357.83" y2="265.5" stroke="#e0394c" stroke-width="1"/><rect x="356.73" y="263.0" width="2.2" height="2.0" fill="#e0394c"/><line x1="360.28" y1="258.5" x2="360.28" y2="264.7" stroke="#16917f" stroke-width="1"/><rect x="359.18" y="260.0" width="2.2" height="4.2" fill="#16917f"/><line x1="362.73" y1="259.8" x2="362.73" y2="265.6" stroke="#e0394c" stroke-width="1"/><rect x="361.63" y="260.8" width="2.2" height="3.3" fill="#e0394c"/><line x1="365.18" y1="262.6" x2="365.18" y2="274.0" stroke="#e0394c" stroke-width="1"/><rect x="364.08" y="264.6" width="2.2" height="5.4" fill="#e0394c"/><line x1="367.63" y1="269.1" x2="367.63" y2="278.0" stroke="#e0394c" stroke-width="1"/><rect x="366.53" y="270.6" width="2.2" height="5.4" fill="#e0394c"/><line x1="370.08" y1="272.3" x2="370.08" y2="288.0" stroke="#e0394c" stroke-width="1"/><rect x="368.98" y="275.3" width="2.2" height="9.7" fill="#e0394c"/><line x1="372.53" y1="280.5" x2="372.53" y2="285.5" stroke="#16917f" stroke-width="1"/><rect x="371.43" y="282.0" width="2.2" height="3.0" fill="#16917f"/><line x1="374.98" y1="277.6" x2="374.98" y2="293.0" stroke="#e0394c" stroke-width="1"/><rect x="373.88" y="281.6" width="2.2" height="10.4" fill="#e0394c"/><line x1="377.43" y1="291.4" x2="377.43" y2="306.5" stroke="#e0394c" stroke-width="1"/><rect x="376.33" y="291.9" width="2.2" height="13.1" fill="#e0394c"/><line x1="379.88" y1="301.9" x2="379.88" y2="355.5" stroke="#e0394c" stroke-width="1"/><rect x="378.78" y="305.9" width="2.2" height="49.1" fill="#e0394c"/><line x1="382.33" y1="337.5" x2="382.33" y2="358.6" stroke="#16917f" stroke-width="1"/><rect x="381.23" y="338.0" width="2.2" height="17.6" fill="#16917f"/><line x1="384.78" y1="334.5" x2="384.78" y2="340.2" stroke="#16917f" stroke-width="1"/><rect x="383.68" y="335.0" width="2.2" height="3.7" fill="#16917f"/><line x1="387.22" y1="333.7" x2="387.22" y2="350.5" stroke="#e0394c" stroke-width="1"/><rect x="386.12" y="335.7" width="2.2" height="14.3" fill="#e0394c"/><line x1="389.67" y1="346.7" x2="389.67" y2="354.0" stroke="#e0394c" stroke-width="1"/><rect x="388.57" y="349.7" width="2.2" height="2.3" fill="#e0394c"/><line x1="392.12" y1="346.5" x2="392.12" y2="355.9" stroke="#16917f" stroke-width="1"/><rect x="391.02" y="348.0" width="2.2" height="4.9" fill="#16917f"/><line x1="394.57" y1="337.0" x2="394.57" y2="351.3" stroke="#16917f" stroke-width="1"/><rect x="393.47" y="340.0" width="2.2" height="7.3" fill="#16917f"/><line x1="397.02" y1="317.0" x2="397.02" y2="340.5" stroke="#16917f" stroke-width="1"/><rect x="395.92" y="320.0" width="2.2" height="19.5" fill="#16917f"/><line x1="399.47" y1="318.5" x2="399.47" y2="331.0" stroke="#e0394c" stroke-width="1"/><rect x="398.37" y="319.5" width="2.2" height="10.5" fill="#e0394c"/><line x1="401.92" y1="326.9" x2="401.92" y2="341.5" stroke="#e0394c" stroke-width="1"/><rect x="400.82" y="330.9" width="2.2" height="9.1" fill="#e0394c"/><line x1="404.37" y1="339.0" x2="404.37" y2="341.6" stroke="#16917f" stroke-width="1"/><rect x="403.27" y="340.0" width="2.2" height="1.0" fill="#16917f"/><line x1="406.82" y1="335.9" x2="406.82" y2="346.5" stroke="#e0394c" stroke-width="1"/><rect x="405.72" y="339.9" width="2.2" height="5.6" fill="#e0394c"/><line x1="409.27" y1="344.5" x2="409.27" y2="353.5" stroke="#e0394c" stroke-width="1"/><rect x="408.17" y="345.0" width="2.2" height="7.0" fill="#e0394c"/><line x1="411.72" y1="350.6" x2="411.72" y2="359.0" stroke="#e0394c" stroke-width="1"/><rect x="410.62" y="351.1" width="2.2" height="3.9" fill="#e0394c"/><line x1="414.17" y1="349.0" x2="414.17" y2="358.0" stroke="#16917f" stroke-width="1"/><rect x="413.07" y="350.0" width="2.2" height="5.0" fill="#16917f"/><line x1="416.62" y1="347.9" x2="416.62" y2="353.5" stroke="#e0394c" stroke-width="1"/><rect x="415.52" y="349.9" width="2.2" height="3.1" fill="#e0394c"/><line x1="419.07" y1="349.3" x2="419.07" y2="360.0" stroke="#e0394c" stroke-width="1"/><rect x="417.97" y="353.3" width="2.2" height="4.7" fill="#e0394c"/><line x1="421.52" y1="355.3" x2="421.52" y2="371.1" stroke="#e0394c" stroke-width="1"/><rect x="420.42" y="358.3" width="2.2" height="10.8" fill="#e0394c"/><line x1="423.97" y1="368.6" x2="423.97" y2="384.0" stroke="#e0394c" stroke-width="1"/><rect x="422.87" y="370.1" width="2.2" height="9.9" fill="#e0394c"/><line x1="426.42" y1="375.4" x2="426.42" y2="380.9" stroke="#16917f" stroke-width="1"/><rect x="425.32" y="376.4" width="2.2" height="3.0" fill="#16917f"/><line x1="428.87" y1="371.8" x2="428.87" y2="382.0" stroke="#e0394c" stroke-width="1"/><rect x="427.77" y="375.8" width="2.2" height="2.2" fill="#e0394c"/><line x1="431.32" y1="376.3" x2="431.32" y2="388.5" stroke="#e0394c" stroke-width="1"/><rect x="430.22" y="378.3" width="2.2" height="8.7" fill="#e0394c"/><line x1="433.77" y1="375.0" x2="433.77" y2="388.5" stroke="#16917f" stroke-width="1"/><rect x="432.67" y="376.0" width="2.2" height="12.0" fill="#16917f"/><line x1="436.21" y1="351.0" x2="436.21" y2="376.6" stroke="#16917f" stroke-width="1"/><rect x="435.11" y="355.0" width="2.2" height="20.1" fill="#16917f"/><line x1="438.66" y1="348.0" x2="438.66" y2="355.4" stroke="#16917f" stroke-width="1"/><rect x="437.56" y="352.0" width="2.2" height="2.9" fill="#16917f"/><line x1="441.11" y1="350.3" x2="441.11" y2="371.0" stroke="#e0394c" stroke-width="1"/><rect x="440.01" y="352.3" width="2.2" height="15.7" fill="#e0394c"/><line x1="443.56" y1="366.8" x2="443.56" y2="396.0" stroke="#e0394c" stroke-width="1"/><rect x="442.46" y="368.3" width="2.2" height="24.7" fill="#e0394c"/><line x1="446.01" y1="391.0" x2="446.01" y2="421.0" stroke="#e0394c" stroke-width="1"/><rect x="444.91" y="392.5" width="2.2" height="4.5" fill="#e0394c"/><line x1="448.46" y1="395.9" x2="448.46" y2="401.5" stroke="#e0394c" stroke-width="1"/><rect x="447.36" y="396.9" width="2.2" height="3.1" fill="#e0394c"/><line x1="450.91" y1="398.4" x2="450.91" y2="434.5" stroke="#e0394c" stroke-width="1"/><rect x="449.81" y="399.9" width="2.2" height="33.1" fill="#e0394c"/><line x1="453.36" y1="417.0" x2="453.36" y2="458.0" stroke="#16917f" stroke-width="1"/><rect x="452.26" y="420.0" width="2.2" height="13.9" fill="#16917f"/><line x1="455.81" y1="396.5" x2="455.81" y2="420.5" stroke="#16917f" stroke-width="1"/><rect x="454.71" y="398.0" width="2.2" height="21.5" fill="#16917f"/><line x1="458.26" y1="397.2" x2="458.26" y2="399.5" stroke="#e0394c" stroke-width="1"/><rect x="457.16" y="397.7" width="2.2" height="1.0" fill="#e0394c"/><line x1="460.71" y1="395.8" x2="460.71" y2="409.5" stroke="#e0394c" stroke-width="1"/><rect x="459.61" y="397.8" width="2.2" height="10.2" fill="#e0394c"/><line x1="463.16" y1="407.0" x2="463.16" y2="411.0" stroke="#e0394c" stroke-width="1"/><rect x="462.06" y="408.0" width="2.2" height="2.0" fill="#e0394c"/><line x1="465.61" y1="409.5" x2="465.61" y2="422.0" stroke="#e0394c" stroke-width="1"/><rect x="464.51" y="410.0" width="2.2" height="2.0" fill="#e0394c"/><line x1="468.06" y1="404.5" x2="468.06" y2="412.5" stroke="#16917f" stroke-width="1"/><rect x="466.96" y="405.0" width="2.2" height="6.5" fill="#16917f"/><line x1="470.51" y1="384.5" x2="470.51" y2="406.8" stroke="#16917f" stroke-width="1"/><rect x="469.41" y="385.0" width="2.2" height="19.8" fill="#16917f"/><line x1="472.96" y1="363.5" x2="472.96" y2="388.0" stroke="#16917f" stroke-width="1"/><rect x="471.86" y="365.0" width="2.2" height="19.0" fill="#16917f"/><line x1="475.41" y1="361.5" x2="475.41" y2="373.0" stroke="#e0394c" stroke-width="1"/><rect x="474.31" y="364.5" width="2.2" height="5.5" fill="#e0394c"/><line x1="477.86" y1="359.0" x2="477.86" y2="374.7" stroke="#16917f" stroke-width="1"/><rect x="476.76" y="360.0" width="2.2" height="10.7" fill="#16917f"/><line x1="480.31" y1="315.0" x2="480.31" y2="362.8" stroke="#16917f" stroke-width="1"/><rect x="479.21" y="318.0" width="2.2" height="42.8" fill="#16917f"/><line x1="482.76" y1="314.5" x2="482.76" y2="337.0" stroke="#e0394c" stroke-width="1"/><rect x="481.66" y="318.5" width="2.2" height="16.5" fill="#e0394c"/><line x1="485.21" y1="296.0" x2="485.21" y2="337.3" stroke="#16917f" stroke-width="1"/><rect x="484.11" y="300.0" width="2.2" height="34.3" fill="#16917f"/><line x1="487.65" y1="299.8" x2="487.65" y2="312.0" stroke="#e0394c" stroke-width="1"/><rect x="486.55" y="300.3" width="2.2" height="7.7" fill="#e0394c"/><line x1="490.10" y1="291.0" x2="490.10" y2="310.8" stroke="#16917f" stroke-width="1"/><rect x="489.00" y="295.0" width="2.2" height="13.8" fill="#16917f"/><line x1="492.55" y1="287.0" x2="492.55" y2="296.5" stroke="#16917f" stroke-width="1"/><rect x="491.45" y="290.0" width="2.2" height="5.5" fill="#16917f"/><line x1="495.00" y1="287.8" x2="495.00" y2="318.0" stroke="#e0394c" stroke-width="1"/><rect x="493.90" y="290.8" width="2.2" height="24.2" fill="#e0394c"/><line x1="497.45" y1="299.5" x2="497.45" y2="319.7" stroke="#16917f" stroke-width="1"/><rect x="496.35" y="300.0" width="2.2" height="15.7" fill="#16917f"/><line x1="499.90" y1="296.2" x2="499.90" y2="309.0" stroke="#e0394c" stroke-width="1"/><rect x="498.80" y="300.2" width="2.2" height="4.8" fill="#e0394c"/><line x1="502.35" y1="286.0" x2="502.35" y2="306.9" stroke="#16917f" stroke-width="1"/><rect x="501.25" y="290.0" width="2.2" height="15.9" fill="#16917f"/><line x1="504.80" y1="288.7" x2="504.80" y2="293.0" stroke="#e0394c" stroke-width="1"/><rect x="503.70" y="289.2" width="2.2" height="2.8" fill="#e0394c"/><line x1="507.25" y1="291.5" x2="507.25" y2="294.3" stroke="#16917f" stroke-width="1"/><rect x="506.15" y="292.0" width="2.2" height="1.0" fill="#16917f"/><line x1="509.70" y1="287.0" x2="509.70" y2="293.2" stroke="#16917f" stroke-width="1"/><rect x="508.60" y="290.0" width="2.2" height="2.7" fill="#16917f"/><line x1="512.15" y1="268.0" x2="512.15" y2="293.3" stroke="#16917f" stroke-width="1"/><rect x="511.05" y="272.0" width="2.2" height="18.3" fill="#16917f"/><line x1="514.60" y1="258.0" x2="514.60" y2="273.9" stroke="#16917f" stroke-width="1"/><rect x="513.50" y="260.0" width="2.2" height="12.4" fill="#16917f"/><line x1="517.05" y1="257.5" x2="517.05" y2="263.0" stroke="#16917f" stroke-width="1"/><rect x="515.95" y="258.0" width="2.2" height="1.0" fill="#16917f"/><line x1="519.50" y1="255.9" x2="519.50" y2="270.5" stroke="#e0394c" stroke-width="1"/><rect x="518.40" y="258.9" width="2.2" height="11.1" fill="#e0394c"/><line x1="521.95" y1="269.8" x2="521.95" y2="280.0" stroke="#e0394c" stroke-width="1"/><rect x="520.85" y="270.3" width="2.2" height="5.7" fill="#e0394c"/><line x1="524.40" y1="270.5" x2="524.40" y2="277.0" stroke="#16917f" stroke-width="1"/><rect x="523.30" y="272.0" width="2.2" height="4.5" fill="#16917f"/><line x1="526.85" y1="225.0" x2="526.85" y2="276.7" stroke="#16917f" stroke-width="1"/><rect x="525.75" y="232.0" width="2.2" height="40.7" fill="#16917f"/><line x1="529.30" y1="231.5" x2="529.30" y2="266.0" stroke="#e0394c" stroke-width="1"/><rect x="528.20" y="232.5" width="2.2" height="29.5" fill="#e0394c"/><line x1="531.75" y1="248.0" x2="531.75" y2="264.3" stroke="#16917f" stroke-width="1"/><rect x="530.65" y="250.0" width="2.2" height="12.3" fill="#16917f"/><line x1="534.20" y1="250.2" x2="534.20" y2="289.0" stroke="#e0394c" stroke-width="1"/><rect x="533.10" y="250.7" width="2.2" height="36.3" fill="#e0394c"/><line x1="536.64" y1="286.3" x2="536.64" y2="305.5" stroke="#e0394c" stroke-width="1"/><rect x="535.54" y="287.8" width="2.2" height="17.2" fill="#e0394c"/><line x1="539.09" y1="301.2" x2="539.09" y2="335.7" stroke="#e0394c" stroke-width="1"/><rect x="537.99" y="305.2" width="2.2" height="16.8" fill="#e0394c"/><line x1="541.54" y1="320.2" x2="541.54" y2="323.5" stroke="#e0394c" stroke-width="1"/><rect x="540.44" y="321.2" width="2.2" height="1.0" fill="#e0394c"/><line x1="543.99" y1="317.5" x2="543.99" y2="332.0" stroke="#e0394c" stroke-width="1"/><rect x="542.89" y="321.5" width="2.2" height="6.5" fill="#e0394c"/><line x1="546.44" y1="324.6" x2="546.44" y2="339.0" stroke="#e0394c" stroke-width="1"/><rect x="545.34" y="327.6" width="2.2" height="10.4" fill="#e0394c"/><line x1="548.89" y1="323.5" x2="548.89" y2="339.0" stroke="#16917f" stroke-width="1"/><rect x="547.79" y="324.0" width="2.2" height="13.0" fill="#16917f"/><line x1="551.34" y1="295.0" x2="551.34" y2="324.0" stroke="#16917f" stroke-width="1"/><rect x="550.24" y="299.0" width="2.2" height="24.5" fill="#16917f"/><line x1="553.79" y1="295.0" x2="553.79" y2="330.0" stroke="#e0394c" stroke-width="1"/><rect x="552.69" y="299.4" width="2.2" height="28.6" fill="#e0394c"/><line x1="556.24" y1="324.6" x2="556.24" y2="336.5" stroke="#e0394c" stroke-width="1"/><rect x="555.14" y="327.6" width="2.2" height="7.4" fill="#e0394c"/><line x1="558.69" y1="332.9" x2="558.69" y2="345.5" stroke="#e0394c" stroke-width="1"/><rect x="557.59" y="334.9" width="2.2" height="10.1" fill="#e0394c"/><line x1="561.14" y1="343.0" x2="561.14" y2="353.0" stroke="#e0394c" stroke-width="1"/><rect x="560.04" y="346.0" width="2.2" height="6.0" fill="#e0394c"/><line x1="563.59" y1="351.1" x2="563.59" y2="360.0" stroke="#e0394c" stroke-width="1"/><rect x="562.49" y="351.6" width="2.2" height="6.4" fill="#e0394c"/><line x1="566.04" y1="348.0" x2="566.04" y2="370.4" stroke="#16917f" stroke-width="1"/><rect x="564.94" y="350.0" width="2.2" height="7.0" fill="#16917f"/><line x1="568.49" y1="348.6" x2="568.49" y2="355.5" stroke="#e0394c" stroke-width="1"/><rect x="567.39" y="350.6" width="2.2" height="3.3" fill="#e0394c"/><line x1="570.94" y1="352.7" x2="570.94" y2="358.5" stroke="#e0394c" stroke-width="1"/><rect x="569.84" y="353.7" width="2.2" height="4.3" fill="#e0394c"/><line x1="573.39" y1="343.0" x2="573.39" y2="362.2" stroke="#16917f" stroke-width="1"/><rect x="572.29" y="344.0" width="2.2" height="14.2" fill="#16917f"/><line x1="575.84" y1="334.5" x2="575.84" y2="345.0" stroke="#16917f" stroke-width="1"/><rect x="574.74" y="336.0" width="2.2" height="8.0" fill="#16917f"/><line x1="578.29" y1="300.0" x2="578.29" y2="339.2" stroke="#16917f" stroke-width="1"/><rect x="577.19" y="304.0" width="2.2" height="32.2" fill="#16917f"/><line x1="580.74" y1="303.1" x2="580.74" y2="309.2" stroke="#e0394c" stroke-width="1"/><rect x="579.64" y="303.6" width="2.2" height="1.6" fill="#e0394c"/><line x1="583.19" y1="298.0" x2="583.19" y2="306.9" stroke="#16917f" stroke-width="1"/><rect x="582.09" y="300.0" width="2.2" height="4.9" fill="#16917f"/><line x1="585.64" y1="249.0" x2="585.64" y2="300.3" stroke="#16917f" stroke-width="1"/><rect x="584.54" y="250.0" width="2.2" height="49.8" fill="#16917f"/><line x1="588.08" y1="246.9" x2="588.08" y2="264.0" stroke="#e0394c" stroke-width="1"/><rect x="586.98" y="250.9" width="2.2" height="11.1" fill="#e0394c"/><line x1="590.53" y1="254.0" x2="590.53" y2="262.8" stroke="#16917f" stroke-width="1"/><rect x="589.43" y="258.0" width="2.2" height="3.8" fill="#16917f"/><line x1="592.98" y1="237.0" x2="592.98" y2="259.5" stroke="#e0394c" stroke-width="1"/><rect x="591.88" y="257.8" width="2.2" height="1.0" fill="#e0394c"/><line x1="595.43" y1="248.5" x2="595.43" y2="257.7" stroke="#16917f" stroke-width="1"/><rect x="594.33" y="250.0" width="2.2" height="7.2" fill="#16917f"/><line x1="597.88" y1="248.1" x2="597.88" y2="277.0" stroke="#e0394c" stroke-width="1"/><rect x="596.78" y="249.6" width="2.2" height="25.4" fill="#e0394c"/><line x1="600.33" y1="264.0" x2="600.33" y2="278.2" stroke="#16917f" stroke-width="1"/><rect x="599.23" y="265.0" width="2.2" height="9.2" fill="#16917f"/><line x1="602.78" y1="260.0" x2="602.78" y2="272.3" stroke="#e0394c" stroke-width="1"/><rect x="601.68" y="264.0" width="2.2" height="6.8" fill="#e0394c"/><line x1="605.23" y1="269.8" x2="605.23" y2="280.0" stroke="#e0394c" stroke-width="1"/><rect x="604.13" y="270.3" width="2.2" height="7.7" fill="#e0394c"/><line x1="607.68" y1="274.8" x2="607.68" y2="285.5" stroke="#e0394c" stroke-width="1"/><rect x="606.58" y="277.8" width="2.2" height="7.2" fill="#e0394c"/><line x1="610.13" y1="282.7" x2="610.13" y2="296.5" stroke="#e0394c" stroke-width="1"/><rect x="609.03" y="284.7" width="2.2" height="10.3" fill="#e0394c"/><line x1="612.58" y1="294.2" x2="612.58" y2="302.5" stroke="#e0394c" stroke-width="1"/><rect x="611.48" y="295.7" width="2.2" height="6.3" fill="#e0394c"/><line x1="615.03" y1="276.0" x2="615.03" y2="302.6" stroke="#16917f" stroke-width="1"/><rect x="613.93" y="280.0" width="2.2" height="21.1" fill="#16917f"/><line x1="617.48" y1="279.3" x2="617.48" y2="288.4" stroke="#e0394c" stroke-width="1"/><rect x="616.38" y="280.3" width="2.2" height="7.1" fill="#e0394c"/><line x1="619.93" y1="286.3" x2="619.93" y2="298.0" stroke="#e0394c" stroke-width="1"/><rect x="618.83" y="288.3" width="2.2" height="6.7" fill="#e0394c"/><line x1="622.38" y1="289.6" x2="622.38" y2="296.6" stroke="#16917f" stroke-width="1"/><rect x="621.28" y="291.1" width="2.2" height="3.5" fill="#16917f"/><line x1="624.83" y1="286.0" x2="624.83" y2="293.8" stroke="#16917f" stroke-width="1"/><rect x="623.73" y="290.0" width="2.2" height="1.8" fill="#16917f"/><line x1="627.28" y1="286.3" x2="627.28" y2="293.8" stroke="#16917f" stroke-width="1"/><rect x="626.18" y="289.3" width="2.2" height="1.6" fill="#16917f"/><line x1="629.73" y1="288.2" x2="629.73" y2="295.5" stroke="#e0394c" stroke-width="1"/><rect x="628.63" y="288.7" width="2.2" height="6.3" fill="#e0394c"/><line x1="632.18" y1="293.9" x2="632.18" y2="299.0" stroke="#e0394c" stroke-width="1"/><rect x="631.08" y="295.9" width="2.2" height="1.1" fill="#e0394c"/><line x1="634.63" y1="296.2" x2="634.63" y2="304.0" stroke="#e0394c" stroke-width="1"/><rect x="633.53" y="297.2" width="2.2" height="2.8" fill="#e0394c"/><line x1="637.07" y1="298.7" x2="637.07" y2="312.5" stroke="#e0394c" stroke-width="1"/><rect x="635.97" y="300.7" width="2.2" height="11.3" fill="#e0394c"/><line x1="639.52" y1="305.0" x2="639.52" y2="313.8" stroke="#16917f" stroke-width="1"/><rect x="638.42" y="308.0" width="2.2" height="4.8" fill="#16917f"/><line x1="641.97" y1="293.0" x2="641.97" y2="308.8" stroke="#16917f" stroke-width="1"/><rect x="640.87" y="295.0" width="2.2" height="12.3" fill="#16917f"/><line x1="644.42" y1="293.1" x2="644.42" y2="324.0" stroke="#e0394c" stroke-width="1"/><rect x="643.32" y="294.6" width="2.2" height="25.4" fill="#e0394c"/><line x1="646.87" y1="314.0" x2="646.87" y2="322.0" stroke="#16917f" stroke-width="1"/><rect x="645.77" y="318.0" width="2.2" height="2.5" fill="#16917f"/><line x1="649.32" y1="316.8" x2="649.32" y2="319.5" stroke="#e0394c" stroke-width="1"/><rect x="648.22" y="317.8" width="2.2" height="1.0" fill="#e0394c"/><line x1="651.77" y1="306.0" x2="651.77" y2="320.0" stroke="#16917f" stroke-width="1"/><rect x="650.67" y="310.0" width="2.2" height="8.0" fill="#16917f"/><line x1="654.22" y1="305.2" x2="654.22" y2="321.0" stroke="#e0394c" stroke-width="1"/><rect x="653.12" y="309.2" width="2.2" height="10.8" fill="#e0394c"/><line x1="656.67" y1="316.2" x2="656.67" y2="323.1" stroke="#e0394c" stroke-width="1"/><rect x="655.57" y="319.2" width="2.2" height="2.0" fill="#e0394c"/><line x1="659.12" y1="313.0" x2="659.12" y2="322.7" stroke="#16917f" stroke-width="1"/><rect x="658.02" y="315.0" width="2.2" height="6.2" fill="#16917f"/><line x1="661.57" y1="314.0" x2="661.57" y2="318.2" stroke="#e0394c" stroke-width="1"/><rect x="660.47" y="316.0" width="2.2" height="1.0" fill="#e0394c"/><line x1="664.02" y1="314.5" x2="664.02" y2="319.0" stroke="#e0394c" stroke-width="1"/><rect x="662.92" y="315.5" width="2.2" height="2.5" fill="#e0394c"/><line x1="666.47" y1="315.7" x2="666.47" y2="338.0" stroke="#e0394c" stroke-width="1"/><rect x="665.37" y="317.2" width="2.2" height="17.8" fill="#e0394c"/><line x1="668.92" y1="333.2" x2="668.92" y2="339.5" stroke="#e0394c" stroke-width="1"/><rect x="667.82" y="334.2" width="2.2" height="3.8" fill="#e0394c"/><line x1="671.37" y1="334.5" x2="671.37" y2="341.0" stroke="#e0394c" stroke-width="1"/><rect x="670.27" y="337.5" width="2.2" height="2.5" fill="#e0394c"/><line x1="673.82" y1="336.8" x2="673.82" y2="374.0" stroke="#e0394c" stroke-width="1"/><rect x="672.72" y="340.8" width="2.2" height="31.2" fill="#e0394c"/><line x1="676.27" y1="367.8" x2="676.27" y2="408.7" stroke="#e0394c" stroke-width="1"/><rect x="675.17" y="371.8" width="2.2" height="20.2" fill="#e0394c"/><line x1="678.72" y1="389.9" x2="678.72" y2="401.5" stroke="#e0394c" stroke-width="1"/><rect x="677.62" y="391.4" width="2.2" height="8.6" fill="#e0394c"/><line x1="681.17" y1="398.5" x2="681.17" y2="403.5" stroke="#e0394c" stroke-width="1"/><rect x="680.07" y="400.5" width="2.2" height="1.5" fill="#e0394c"/><line x1="683.62" y1="394.5" x2="683.62" y2="403.1" stroke="#16917f" stroke-width="1"/><rect x="682.52" y="396.0" width="2.2" height="6.1" fill="#16917f"/><line x1="686.07" y1="393.4" x2="686.07" y2="404.0" stroke="#e0394c" stroke-width="1"/><rect x="684.97" y="396.4" width="2.2" height="3.6" fill="#e0394c"/><line x1="688.51" y1="399.6" x2="688.51" y2="402.5" stroke="#e0394c" stroke-width="1"/><rect x="687.41" y="400.6" width="2.2" height="1.4" fill="#e0394c"/><line x1="690.96" y1="399.0" x2="690.96" y2="404.0" stroke="#16917f" stroke-width="1"/><rect x="689.86" y="400.0" width="2.2" height="1.5" fill="#16917f"/><line x1="693.41" y1="361.0" x2="693.41" y2="401.8" stroke="#16917f" stroke-width="1"/><rect x="692.31" y="363.0" width="2.2" height="36.8" fill="#16917f"/><line x1="695.86" y1="352.5" x2="695.86" y2="364.9" stroke="#16917f" stroke-width="1"/><rect x="694.76" y="353.0" width="2.2" height="10.9" fill="#16917f"/><line x1="698.31" y1="346.0" x2="698.31" y2="372.4" stroke="#e0394c" stroke-width="1"/><rect x="697.21" y="352.1" width="2.2" height="18.3" fill="#e0394c"/><line x1="700.76" y1="369.3" x2="700.76" y2="376.5" stroke="#e0394c" stroke-width="1"/><rect x="699.66" y="371.3" width="2.2" height="4.7" fill="#e0394c"/><line x1="703.21" y1="372.1" x2="703.21" y2="384.0" stroke="#e0394c" stroke-width="1"/><rect x="702.11" y="375.1" width="2.2" height="6.9" fill="#e0394c"/><line x1="705.66" y1="371.0" x2="705.66" y2="394.0" stroke="#16917f" stroke-width="1"/><rect x="704.56" y="372.0" width="2.2" height="10.9" fill="#16917f"/><line x1="708.11" y1="362.0" x2="708.11" y2="374.4" stroke="#16917f" stroke-width="1"/><rect x="707.01" y="363.0" width="2.2" height="8.4" fill="#16917f"/><line x1="710.56" y1="363.4" x2="710.56" y2="376.0" stroke="#e0394c" stroke-width="1"/><rect x="709.46" y="363.9" width="2.2" height="8.1" fill="#e0394c"/><line x1="713.01" y1="370.4" x2="713.01" y2="378.5" stroke="#e0394c" stroke-width="1"/><rect x="711.91" y="372.4" width="2.2" height="5.6" fill="#e0394c"/><line x1="715.46" y1="377.6" x2="715.46" y2="386.5" stroke="#e0394c" stroke-width="1"/><rect x="714.36" y="378.1" width="2.2" height="7.9" fill="#e0394c"/><line x1="717.91" y1="385.6" x2="717.91" y2="425.0" stroke="#e0394c" stroke-width="1"/><rect x="716.81" y="386.6" width="2.2" height="23.4" fill="#e0394c"/><line x1="720.36" y1="394.0" x2="720.36" y2="414.8" stroke="#16917f" stroke-width="1"/><rect x="719.26" y="398.0" width="2.2" height="12.8" fill="#16917f"/><line x1="722.81" y1="371.0" x2="722.81" y2="401.6" stroke="#16917f" stroke-width="1"/><rect x="721.71" y="372.0" width="2.2" height="25.6" fill="#16917f"/><line x1="725.26" y1="367.5" x2="725.26" y2="377.0" stroke="#e0394c" stroke-width="1"/><rect x="724.16" y="371.5" width="2.2" height="3.5" fill="#e0394c"/><line x1="727.71" y1="329.5" x2="727.71" y2="375.9" stroke="#16917f" stroke-width="1"/><rect x="726.61" y="330.0" width="2.2" height="45.4" fill="#16917f"/><line x1="730.16" y1="326.1" x2="730.16" y2="352.0" stroke="#e0394c" stroke-width="1"/><rect x="729.06" y="329.1" width="2.2" height="19.9" fill="#e0394c"/><line x1="732.61" y1="346.9" x2="732.61" y2="361.0" stroke="#e0394c" stroke-width="1"/><rect x="731.51" y="348.4" width="2.2" height="11.6" fill="#e0394c"/><line x1="735.06" y1="345.5" x2="735.06" y2="361.1" stroke="#16917f" stroke-width="1"/><rect x="733.96" y="346.0" width="2.2" height="14.6" fill="#16917f"/><line x1="737.50" y1="338.0" x2="737.50" y2="347.6" stroke="#16917f" stroke-width="1"/><rect x="736.40" y="340.0" width="2.2" height="6.1" fill="#16917f"/><line x1="739.95" y1="332.0" x2="739.95" y2="341.9" stroke="#16917f" stroke-width="1"/><rect x="738.85" y="336.0" width="2.2" height="4.9" fill="#16917f"/><line x1="742.40" y1="329.0" x2="742.40" y2="339.0" stroke="#16917f" stroke-width="1"/><rect x="741.30" y="330.0" width="2.2" height="6.0" fill="#16917f"/><line x1="744.85" y1="327.5" x2="744.85" y2="362.0" stroke="#e0394c" stroke-width="1"/><rect x="743.75" y="329.5" width="2.2" height="28.5" fill="#e0394c"/><line x1="747.30" y1="357.8" x2="747.30" y2="368.5" stroke="#e0394c" stroke-width="1"/><rect x="746.20" y="358.3" width="2.2" height="9.7" fill="#e0394c"/><line x1="749.75" y1="361.0" x2="749.75" y2="371.4" stroke="#16917f" stroke-width="1"/><rect x="748.65" y="365.0" width="2.2" height="2.4" fill="#16917f"/><line x1="752.20" y1="350.5" x2="752.20" y2="365.8" stroke="#16917f" stroke-width="1"/><rect x="751.10" y="352.0" width="2.2" height="12.8" fill="#16917f"/><line x1="754.65" y1="342.5" x2="754.65" y2="353.3" stroke="#16917f" stroke-width="1"/><rect x="753.55" y="344.0" width="2.2" height="8.3" fill="#16917f"/><line x1="757.10" y1="279.0" x2="757.10" y2="345.5" stroke="#16917f" stroke-width="1"/><rect x="756.00" y="336.0" width="2.2" height="8.0" fill="#16917f"/><line x1="759.55" y1="330.5" x2="759.55" y2="340.4" stroke="#16917f" stroke-width="1"/><rect x="758.45" y="332.0" width="2.2" height="4.4" fill="#16917f"/><line x1="762.00" y1="317.0" x2="762.00" y2="333.3" stroke="#16917f" stroke-width="1"/><rect x="760.90" y="324.0" width="2.2" height="7.8" fill="#16917f"/>
<path d="M9.0,298.0 C12.5,296.7 22.3,293.0 30.0,290.0 C37.7,287.0 46.7,283.2 55.0,280.0 C63.3,276.8 71.7,273.5 80.0,271.0 C88.3,268.5 96.7,266.3 105.0,265.0 C113.3,263.7 121.7,263.2 130.0,263.0 C138.3,262.8 146.7,263.2 155.0,264.0 C163.3,264.8 171.7,267.0 180.0,268.0 C188.3,269.0 196.7,269.7 205.0,270.0 C213.3,270.3 221.7,269.8 230.0,270.0 C238.3,270.2 246.7,270.0 255.0,271.0 C263.3,272.0 271.7,275.1 280.0,276.0 C288.3,276.9 296.7,276.8 305.0,276.5 C313.3,276.2 322.5,274.9 330.0,274.5 C337.5,274.1 343.0,274.1 350.0,274.0 C357.0,273.9 365.5,273.3 372.0,274.0 C378.5,274.7 382.8,276.3 389.0,278.0 C395.2,279.7 402.3,282.1 409.0,284.0 C415.7,285.9 422.2,287.3 429.0,289.5 C435.8,291.7 443.2,294.8 450.0,297.0 C456.8,299.2 462.5,301.3 470.0,303.0 C477.5,304.7 486.7,306.7 495.0,307.0 C503.3,307.3 512.8,305.8 520.0,305.0 C527.2,304.2 531.3,302.0 538.0,302.0 C544.7,302.0 552.2,304.3 560.0,305.0 C567.8,305.7 576.7,306.3 585.0,306.0 C593.3,305.7 600.0,303.7 610.0,303.0 C620.0,302.3 635.0,301.8 645.0,302.0 C655.0,302.2 662.5,302.5 670.0,304.0 C677.5,305.5 684.2,309.2 690.0,311.0 C695.8,312.8 700.0,313.2 705.0,314.5 C710.0,315.8 715.2,317.8 720.0,319.0 C724.8,320.2 729.2,321.0 734.0,321.7 C738.8,322.4 744.3,322.8 749.0,323.2 C753.7,323.6 759.8,323.9 762.0,324.0" fill="none" stroke="#5c1a1a" stroke-width="2.1"/>
<line x1="9" y1="324.4" x2="932" y2="324.4" stroke="#50605e" stroke-width="1" stroke-dasharray="1.2,1.6"/>
<g transform="translate(761.9,515.6)"><circle r="9" fill="#fff" stroke="#70309a" stroke-width="1.3"/><path d="M2.9,-4.6 L-2.4,0.1 L3.1,-0.3 L-2.6,4.3" fill="none" stroke="#7030a0" stroke-width="1.6" stroke-linejoin="round" stroke-linecap="round"/></g>
<g transform="translate(790.6,515.3)"><circle r="9.6" fill="#fff" stroke="#c45a64" stroke-width="1.2"/><circle r="7.4" fill="#e8473c"/><circle cx="-3.8" cy="-2.4" r="1.4" fill="#ffc04a"/></g>
<g transform="translate(11.4,571.5) scale(0.765)"><path d="M14 22H7V11H0V4h14v18zM28 22h-8l7.5-18h8L28 22z" fill="#131722"/><circle cx="20" cy="8" r="4" fill="#131722"/></g>
</svg>
<div class="tp" style="left:17.9px;top:32.9px;font-size:11.5px;line-height:11.5px;color:#131722;font-weight:normal;transform:scaleX(0.9064);">CNY/RUB_TOM - CNY/РУБ · 4ч · RUS</div><div class="tp" style="left:207.1px;top:32.9px;font-size:11.5px;line-height:11.5px;color:#131722;font-weight:normal;transform:scaleX(0.8898);">ОТКР</div><div class="tp" style="left:235.0px;top:32.9px;font-size:11.5px;line-height:11.5px;color:#089981;font-weight:normal;transform:scaleX(0.9627);">11,1050</div><div class="tp" style="left:281.8px;top:32.9px;font-size:11.5px;line-height:11.5px;color:#131722;font-weight:normal;transform:scaleX(0.8685);">МАКС</div><div class="tp" style="left:310.6px;top:32.9px;font-size:11.5px;line-height:11.5px;color:#089981;font-weight:normal;transform:scaleX(0.9504);">11,1690</div><div class="tp" style="left:357.0px;top:32.9px;font-size:11.5px;line-height:11.5px;color:#131722;font-weight:normal;transform:scaleX(0.8717);">МИН</div><div class="tp" style="left:380.3px;top:32.9px;font-size:11.5px;line-height:11.5px;color:#089981;font-weight:normal;transform:scaleX(0.9259);">11,0870</div><div class="tp" style="left:425.8px;top:32.9px;font-size:11.5px;line-height:11.5px;color:#131722;font-weight:normal;transform:scaleX(0.8966);">ЗАКР</div><div class="tp" style="left:452.3px;top:32.9px;font-size:11.5px;line-height:11.5px;color:#089981;font-weight:normal;transform:scaleX(0.9406);">11,1420</div><div class="tp" style="left:498.0px;top:32.9px;font-size:11.5px;line-height:11.5px;color:#089981;font-weight:normal;transform:scaleX(0.9231);">+0,0375 (+0,34%)</div><div class="tp" style="left:17.9px;top:49.1px;font-size:11.5px;line-height:11.5px;color:#131722;font-weight:normal;transform:scaleX(0.9249);">EMA (200, close)</div><div class="tp" style="left:107.9px;top:49.1px;font-size:11.5px;line-height:11.5px;color:#8b3a3a;font-weight:normal;transform:scaleX(0.9553);">11,1406</div><div class="tp" style="left:17.9px;top:65.4px;font-size:11.5px;line-height:11.5px;color:#131722;font-weight:normal;transform:scaleX(0.9726);">Объём: Поставщик данных не предоставляет данные об объеме для этого инструмента.</div><div class="tp" style="left:17.9px;top:81.1px;font-size:11.5px;line-height:11.5px;color:#131722;font-weight:normal;transform:scaleX(0.9369);">EMA 50/100</div><div class="tp" style="left:83.8px;top:81.1px;font-size:11.5px;line-height:11.5px;color:#e0364a;font-weight:normal;transform:scaleX(0.9725);">11,0439</div><div class="tp" style="left:129.9px;top:81.1px;font-size:11.5px;line-height:11.5px;color:#3cc8e0;font-weight:normal;transform:scaleX(0.9455);">11,0854</div>
<div style="position:absolute;left:937px;top:29.5px;width:49px;height:24.5px;border:1px solid #e6e6e6;border-radius:3px;box-sizing:border-box;"></div><div class="tp" style="left:944.5px;top:36.3px;font-size:11.5px;line-height:11.5px;color:#131722;transform:scaleX(0.84);">RUB</div>
<div class="pl" style="top:62.5px">12,1250</div><div class="pl" style="top:94.7px">12,0000</div><div class="pl" style="top:126.9px">11,8750</div><div class="pl" style="top:159.1px">11,7500</div><div class="pl" style="top:191.3px">11,6250</div><div class="pl" style="top:223.5px">11,5000</div><div class="pl" style="top:255.7px">11,3750</div><div class="pl" style="top:287.9px">11,2500</div><div class="pl" style="top:352.3px">11,0000</div><div class="pl" style="top:384.5px">10,8750</div><div class="pl" style="top:416.7px">10,7500</div><div class="pl" style="top:448.9px">10,6250</div><div class="pl" style="top:481.1px">10,5000</div><div class="pl" style="top:513.3px">10,3750</div>
<div style="position:absolute;left:933px;top:316.3px;width:53px;height:15.5px;background:#089981;border-radius:1.5px;"></div><div style="position:absolute;left:920px;top:316.3px;width:60.5px;text-align:right;color:#fff;font-size:12px;line-height:16px;font-weight:bold;transform:scaleX(0.86);transform-origin:100% 50%;">11,1420</div>
<div class="ml" style="left:75px;">Окт</div><div class="ml" style="left:246px;">Ноя</div><div class="ml" style="left:394px;">Дек</div><div class="ml" style="left:556px;font-weight:bold;">2026</div><div class="ml" style="left:697px;">Фев</div>
<div class="t" style="left:45px;top:570px;font-size:20px;line-height:22px;font-weight:bold;color:#131722;letter-spacing:-0.2px;">TradingView</div>
</body></html>
